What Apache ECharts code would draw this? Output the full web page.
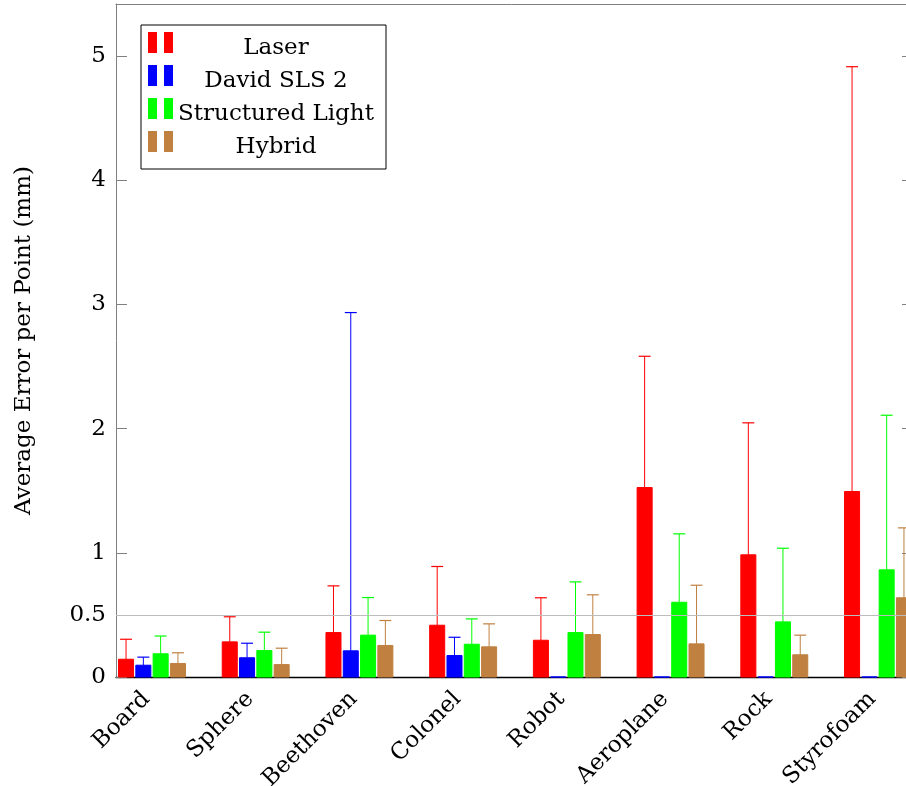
<!DOCTYPE html>
<html>
<head>
<meta charset="utf-8">
<script src="https://cdn.jsdelivr.net/npm/echarts@6/dist/echarts.min.js"></script>
<style>
  html, body { margin: 0; padding: 0; background: #fff; }
  #chart { width: 906px; height: 786px; }
</style>
</head>
<body>
<div id="chart"></div>
<script>
// Average per-point reconstruction error, mean with upper error bar (mm)
const categories = ['Board', 'Sphere', 'Beethoven', 'Colonel', 'Robot', 'Aeroplane', 'Rock', 'Styrofoam'];

const laserMean      = [0.143, 0.283, 0.358, 0.417, 0.296, 1.526, 0.984, 1.494];
const laserErr       = [0.161, 0.202, 0.376, 0.473, 0.342, 1.057, 1.063, 3.421];

const davidMean      = [0.095, 0.155, 0.211, 0.173, 0, 0, 0, 0];
const davidErr       = [0.065, 0.117, 2.724, 0.147, null, null, null, null];

const structuredMean = [0.187, 0.213, 0.337, 0.264, 0.358, 0.602, 0.444, 0.863];
const structuredErr  = [0.143, 0.148, 0.303, 0.204, 0.408, 0.551, 0.593, 1.245];

const hybridMean     = [0.109, 0.100, 0.254, 0.243, 0.342, 0.267, 0.179, 0.638];
const hybridErr      = [0.086, 0.132, 0.201, 0.185, 0.320, 0.472, 0.158, 0.563];

const seriesNames  = ['Laser', 'David SLS 2', 'Structured Light', 'Hybrid'];
const seriesColors = ['#ff0000', '#0000ff', '#00ff00', '#bf8040'];
const yTicks = [0, 0.5, 1, 2, 3, 4, 5];
const referenceLevel = 0.5;

const FONT = 'DejaVu Serif';
const BAR_STEP = 0.1668;   // distance between neighbouring bars, in category units
const BAR_WIDTH = 0.145;
const CAP_WIDTH = 0.115;

function makeRender(idx, color) {
  return function (params, api) {
    const c = api.value(0) + (idx - 1.5) * BAR_STEP;
    const v = api.value(1);
    const e = api.value(2);
    const base = api.coord([c, 0]);
    const top = api.coord([c, v]);
    const w = api.size([BAR_WIDTH, 0])[0];
    const capW = api.size([CAP_WIDTH, 0])[0];
    const children = [{
      type: 'rect',
      shape: { x: base[0] - w / 2, y: top[1], width: w, height: base[1] - top[1] },
      style: { fill: color, stroke: color, lineWidth: 1 }
    }];
    if (e !== null && isFinite(e) && e > 0) {
      const hi = api.coord([c, v + e]);
      children.push({
        type: 'line',
        shape: { x1: top[0], y1: top[1], x2: hi[0], y2: hi[1] },
        style: { stroke: color, lineWidth: 1 }
      });
      children.push({
        type: 'line',
        shape: { x1: hi[0] - capW / 2, y1: hi[1], x2: hi[0] + capW / 2, y2: hi[1] },
        style: { stroke: color, lineWidth: 1.2 }
      });
    }
    return { type: 'group', children: children };
  };
}

const means = [laserMean, davidMean, structuredMean, hybridMean];
const errs  = [laserErr, davidErr, structuredErr, hybridErr];

const barSeries = seriesNames.map(function (name, i) {
  return {
    type: 'custom',
    name: name,
    xAxisIndex: 0,
    yAxisIndex: 0,
    z: 3,
    clip: false,
    itemStyle: { color: seriesColors[i] },
    renderItem: makeRender(i, seriesColors[i]),
    encode: { x: 0, y: [1, 2] },
    data: categories.map(function (_, k) { return [k, means[i][k], errs[i][k]]; })
  };
});

const chart = echarts.init(document.getElementById('chart'), null, { renderer: 'canvas' });

chart.setOption({
  backgroundColor: '#ffffff',
  animation: false,
  textStyle: { fontFamily: FONT },
  // the plot box runs a little past the right edge of the canvas
  grid: { left: 116, top: 4, width: 798, height: 673, containLabel: false, outerBoundsMode: 'none' },
  legend: {
    data: seriesNames,
    orient: 'vertical',
    left: 141,
    top: 25,
    padding: [0, 12, 10, 7],
    itemWidth: 25,
    itemHeight: 21,
    itemGap: -2,
    selectedMode: false,
    backgroundColor: '#ffffff',
    borderColor: '#000000',
    borderWidth: 1,
    borderRadius: 0,
    icon: 'path://M0,0h9v21h-9z M16,0h9v21h-9z',
    formatter: function (name) { return '{t|' + name + '}'; },
    textStyle: {
      fontFamily: FONT,
      fontSize: 23,
      lineHeight: 16,
      color: '#000',
      rich: {
        t: { fontFamily: FONT, fontSize: 23, color: '#000', width: 196, align: 'center', lineHeight: 16, padding: [12, 0, 0, 0] }
      }
    }
  },
  xAxis: [{
    type: 'value',
    position: 'bottom',
    min: -0.347,
    max: 7.347,
    splitLine: { show: false },
    axisLine: { show: true, onZero: false, lineStyle: { color: '#000000', width: 1.3 } },
    axisTick: { show: false },
    axisLabel: {
      customValues: categories.map(function (_, k) { return k; }),
      formatter: function (v) { return '{c|' + categories[Math.round(v)] + '}'; },
      rotate: 45,
      margin: 13,
      fontFamily: FONT,
      fontSize: 23,
      color: '#000',
      rich: {
        c: { fontFamily: FONT, fontSize: 23, color: '#000', padding: [0, 8, 0, 0] }
      }
    }
  }, {
    type: 'value',
    position: 'top',
    min: -0.347,
    max: 7.347,
    splitLine: { show: false },
    axisLine: { show: true, onZero: false, lineStyle: { color: '#808080', width: 1 } },
    axisTick: { show: false },
    axisLabel: { show: false }
  }],
  yAxis: [{
    type: 'value',
    position: 'left',
    min: 0,
    max: 5.42,
    name: 'Average Error per Point (mm)',
    nameLocation: 'middle',
    nameGap: 80,
    nameTextStyle: { fontFamily: FONT, fontSize: 23, color: '#000' },
    splitLine: { show: false },
    axisLine: { show: true, onZero: false, lineStyle: { color: '#808080', width: 1 } },
    axisTick: { show: true, inside: true, length: 11, customValues: yTicks, lineStyle: { color: '#808080', width: 1 } },
    axisLabel: {
      customValues: yTicks,
      formatter: function (v) { return String(v); },
      margin: 10,
      fontFamily: FONT,
      fontSize: 23,
      color: '#000'
    }
  }, {
    type: 'value',
    position: 'right',
    min: 0,
    max: 5.42,
    splitLine: { show: false },
    axisLine: { show: true, onZero: false, lineStyle: { color: '#808080', width: 1 } },
    axisTick: { show: true, inside: true, length: 12, customValues: yTicks, lineStyle: { color: '#808080', width: 1 } },
    axisLabel: { show: false }
  }],
  series: [{
    type: 'line',
    name: 'reference',
    data: [],
    z: 1,
    silent: true,
    markLine: {
      silent: true,
      symbol: 'none',
      label: { show: false },
      lineStyle: { color: '#bdbdbd', width: 1.2, type: 'solid' },
      data: [{ yAxis: referenceLevel }]
    }
  }].concat(barSeries)
});
</script>
</body>
</html>
